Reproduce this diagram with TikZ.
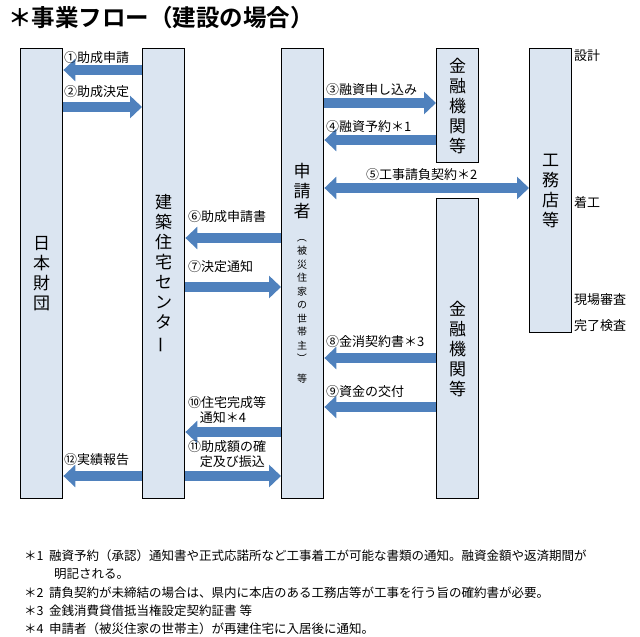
\documentclass[tikz,border=0pt]{standalone}
\usepackage{fontspec}
\setmainfont{Noto Sans CJK JP}[BoldFont={Noto Sans CJK JP Bold}]
\usetikzlibrary{arrows.meta}
\definecolor{boxfill}{HTML}{DBE5F1}
\definecolor{arr}{HTML}{4F81BD}
\newcommand{\vbar}{\rotatebox[origin=c]{90}{ー}}
\begin{document}
\begin{tikzpicture}[x=1pt,y=-1pt,
  box/.style={draw=black,line width=1.4pt,fill=boxfill,anchor=north west,inner sep=0pt},
  vt/.style={font=\fontsize{17}{20}\selectfont,align=center,inner sep=0pt},
  lab/.style={font=\fontsize{13}{15}\selectfont,anchor=south west,inner sep=0pt,align=left},
  ba/.style={draw=arr,line width=10pt,-{Triangle[length=12pt,width=22pt]}},
  bb/.style={ba,{Triangle[length=12pt,width=22pt]}-{Triangle[length=12pt,width=22pt]}},
  side/.style={font=\fontsize{13}{15}\selectfont,anchor=west,inner sep=0pt},
  note/.style={font=\fontsize{12.5}{14}\selectfont,anchor=west,inner sep=0pt}]
\useasboundingbox (0,0) rectangle (640,637);
\node[anchor=west,inner sep=0pt,font=\bfseries\fontsize{23.5}{26}\selectfont] (title) at (8,18) {＊事業フロー（建設の場合）};
% boxes
\node[box,minimum width=42pt,minimum height=450pt] (nz) at (20,48) {};
\node[box,minimum width=42pt,minimum height=450pt] (ct) at (142,48) {};
\node[box,minimum width=42pt,minimum height=450pt] (ap) at (281,48) {};
\node[box,minimum width=42pt,minimum height=114pt] (b1) at (436,48) {};
\node[box,minimum width=42pt,minimum height=284pt] (kt) at (529,48) {};
\node[box,minimum width=42pt,minimum height=300pt] (b2) at (436,198) {};
% vertical texts
\node[vt] (t1) at (nz.center) {日\\本\\財\\団};
\node[vt] (t2) at (ct.center) {建\\築\\住\\宅\\セ\\ン\\タ\\\vbar};
\node[vt,anchor=north] (t3) at (302,163) {申\\請\\者};
\node[align=center,inner sep=0pt,anchor=north,font=\fontsize{10}{13.5}\selectfont] (t3b) at (302,232) {\rotatebox[origin=c]{-90}{（}\\被\\災\\住\\家\\の\\世\\帯\\主\\\rotatebox[origin=c]{-90}{）}\\[6pt]等};
\node[vt] (t4) at (b1.center) {金\\融\\機\\関\\等};
\node[vt] (t5) at (b2.center) {金\\融\\機\\関\\等};
\node[vt] (t6) at (kt.center) {工\\務\\店\\等};
% arrows
\draw[ba] (ct.west |- 0,70) -- (nz.east |- 0,70);
\draw[ba] (nz.east |- 0,107) -- (ct.west |- 0,107);
\draw[ba] (ap.east |- 0,103) -- (b1.west |- 0,103);
\draw[ba] (b1.west |- 0,140) -- (ap.east |- 0,140);
\draw[bb] (ap.east |- 0,188) -- (kt.west |- 0,188);
\draw[ba] (ap.west |- 0,238) -- (ct.east |- 0,238);
\draw[ba] (ct.east |- 0,287) -- (ap.west |- 0,287);
\draw[ba] (b2.west |- 0,358) -- (ap.east |- 0,358);
\draw[ba] (b2.west |- 0,407) -- (ap.east |- 0,407);
\draw[ba] (ap.west |- 0,432) -- (ct.east |- 0,432);
\draw[ba] (ct.east |- 0,476) -- (ap.west |- 0,476);
\draw[ba] (ct.west |- 0,476) -- (nz.east |- 0,476);
% labels
\node[lab] (l1) at (64,64) {①助成申請};
\node[lab] (l2) at (64,98) {②助成決定};
\node[lab] (l3) at (326,96) {③融資申し込み};
\node[lab] (l4) at (326,133) {④融資予約＊1};
\node[lab] (l5) at (366,181) {⑤工事請負契約＊2};
\node[lab] (l6) at (188,223) {⑥助成申請書};
\node[lab] (l7) at (188,273) {⑦決定通知};
\node[lab] (l8) at (326,348) {⑧金消契約書＊3};
\node[lab] (l9) at (326,398) {⑨資金の交付};
\node[lab] (l10) at (188,424) {⑩住宅完成等\\\hspace*{0.9em}通知＊4};
\node[lab] (l11) at (188,468) {⑪助成額の確\\\hspace*{0.9em}定及び振込};
\node[lab] (l12) at (64,466) {⑫実績報告};
% side
\node[side] (s1) at (574,56) {設計};
\node[side] (s2) at (574,203) {着工};
\node[side] (s3) at (574,300) {現場審査};
\node[side] (s4) at (574,326) {完了検査};
% notes
\node[note] (n1) at (24,556) {＊1\ \ 融資予約（承認）通知書や正式応諾所など工事着工が可能な書類の通知。融資金額や返済期間が};
\node[note] (n1b) at (54,574) {明記される。};
\node[note] (n2) at (24,593) {＊2\ \ 請負契約が未締結の場合は、県内に本店のある工務店等が工事を行う旨の確約書が必要。};
\node[note] (n3) at (24,611) {＊3\ \ 金銭消費貸借抵当権設定契約証書 等};
\node[note] (n4) at (24,629) {＊4\ \ 申請者（被災住家の世帯主）が再建住宅に入居後に通知。};
\end{tikzpicture}
\end{document}
